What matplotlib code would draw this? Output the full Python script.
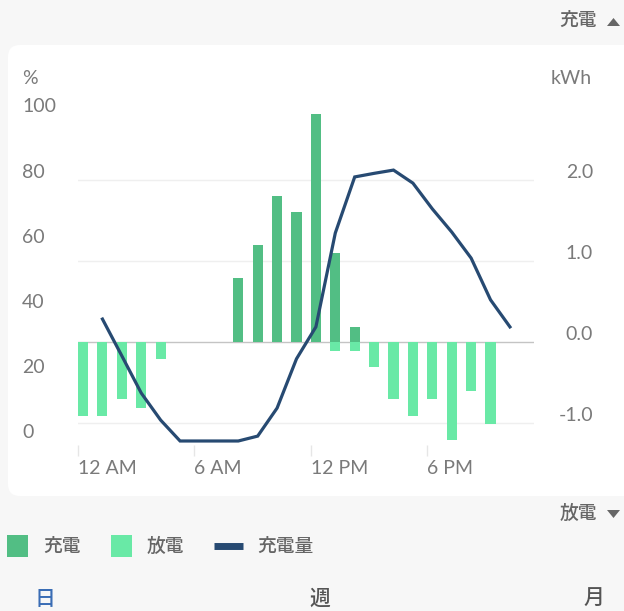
import matplotlib.pyplot as plt
import matplotlib.transforms as mtransforms
from matplotlib.patches import FancyBboxPatch, Rectangle, Polygon
from matplotlib.lines import Line2D

plt.rcParams['font.family'] = ['Lato', 'Noto Sans CJK JP', 'DejaVu Sans']

# hourly data
hours = list(range(24))
charge = [0, 0, 0, 0, 0, 0, 0, 0, 0.79, 1.20, 1.80, 1.60, 2.81, 1.10, 0.19,
          0, 0, 0, 0, 0, 0, 0, 0, 0]
discharge = [-0.91, -0.91, -0.70, -0.81, -0.21, 0, 0, 0, 0, 0, 0, 0, 0, -0.11, -0.11,
             -0.31, -0.70, -0.91, -0.70, -1.21, -0.61, -1.01, 0, 0]
soc_hours = list(range(1, 23))
soc = [37.4, 26.1, 14.7, 6.4, 0, 0, 0, 0, 1.5, 10.1, 25.2, 35.0, 63.8, 81.0,
       82.1, 83.1, 79.1, 71.2, 64.1, 56.1, 43.3, 35.0]

x_ticks = [0, 6, 12, 18]
x_labels = ['12 AM', '6 AM', '12 PM', '6 PM']
kwh_ticks = [2.0, 1.0, 0.0, -1.0]
kwh_labels = ['2.0', '1.0', '0.0', '-1.0']
pct_ticks = [0, 20, 40, 60, 80, 100]

c_charge = '#52be84'
c_dis = '#69e9a6'
c_line = '#274a72'
c_text = '#7a7a7a'

W, H = 624, 611
fig = plt.figure(figsize=(W / 100, H / 100), dpi=100)
fig.patch.set_facecolor('#f7f7f7')

# white card behind the chart
card = FancyBboxPatch((0.08, 1.15), 6.4, 4.51, boxstyle='round,pad=0,rounding_size=0.12',
                      transform=fig.dpi_scale_trans, facecolor='white', edgecolor='none', zorder=-5)
fig.patches.append(card)

ax = fig.add_axes([78 / W, 1 - 445 / H, 456 / W, 345 / H])
ax.set_facecolor('none')
ax2 = ax.twinx()
ax2.set_facecolor('none')

off = 0.26
bw = 0.52
ax.bar([h + off for h in hours], charge, width=bw, color=c_charge, zorder=3)
ax.bar([h + off for h in hours], discharge, width=bw, color=c_dis, zorder=3)
ax.set_xlim(0, 23.5)
ax.set_ylim(-1.2716, 2.988)

for v in kwh_ticks:
    if v == 0:
        ax.axhline(v, color='#c4c4c4', lw=1.0, zorder=2)
    else:
        ax.axhline(v, color='#efefef', lw=1.0, zorder=1)

ax2.plot([h + off for h in soc_hours], soc, color=c_line, lw=2.3, solid_joinstyle='miter', zorder=5)
ax2.set_ylim(-1.23, 104.6)

for a in (ax, ax2):
    for s in a.spines.values():
        s.set_visible(False)
    a.set_yticks([])

ax.set_xticks(x_ticks)
ax.set_xticklabels(x_labels, ha='left', fontsize=14, color=c_text)
ax.tick_params(axis='x', length=8, width=1, color='#e6e6e6', pad=3)

shift = mtransforms.ScaledTranslation(0, 0.08, fig.dpi_scale_trans)
tr_r = mtransforms.blended_transform_factory(fig.transFigure, ax.transData) + shift
for v, lab in zip(kwh_ticks, kwh_labels):
    ax.text(593 / W, v, lab, transform=tr_r, ha='right', va='center', fontsize=14, color=c_text)
tr_l = mtransforms.blended_transform_factory(fig.transFigure, ax2.transData) + shift
for v in pct_ticks:
    ax2.text(22 / W, v, str(v), transform=tr_l, ha='left', va='center', fontsize=14, color=c_text)

fig.text(22 / W, 1 - 79 / H, '%', ha='left', va='center', fontsize=14, color=c_text)
fig.text(592 / W, 1 - 79 / H, 'kWh', ha='right', va='center', fontsize=14, color=c_text)

cjk = ['Noto Sans CJK JP', 'DejaVu Sans']
c_cjk = '#666666'
fig.text(597 / W, 1 - 20 / H, '充電', ha='right', va='center', fontsize=13.5, color=c_cjk,
         family=cjk, weight='medium')
fig.patches.append(Polygon([(607 / W, 1 - 26 / H), (620 / W, 1 - 26 / H), (613.5 / W, 1 - 18 / H)],
                           closed=True, transform=fig.transFigure, facecolor=c_cjk, edgecolor='none'))
fig.text(597 / W, 1 - 513 / H, '放電', ha='right', va='center', fontsize=13.5, color=c_cjk,
         family=cjk, weight='medium')
fig.patches.append(Polygon([(607 / W, 1 - 510 / H), (620 / W, 1 - 510 / H), (613.5 / W, 1 - 518 / H)],
                           closed=True, transform=fig.transFigure, facecolor=c_cjk, edgecolor='none'))

# legend row
ly = 1 - 546 / H
fig.patches.append(Rectangle((7 / W, ly - 11 / H), 21 / W, 22 / H, transform=fig.transFigure,
                             facecolor=c_charge, edgecolor='none'))
fig.text(43 / W, ly, '充電', ha='left', va='center', fontsize=13.5, color=c_cjk, family=cjk,
         weight='medium')
fig.patches.append(Rectangle((111 / W, ly - 11 / H), 21 / W, 22 / H, transform=fig.transFigure,
                             facecolor=c_dis, edgecolor='none'))
fig.text(147 / W, ly, '放電', ha='left', va='center', fontsize=13.5, color=c_cjk, family=cjk,
         weight='medium')
fig.lines.append(Line2D([214 / W, 243 / W], [ly, ly], transform=fig.transFigure, color=c_line,
                        lw=5, solid_capstyle='butt'))
fig.text(257 / W, ly, '充電量', ha='left', va='center', fontsize=13.5, color=c_cjk, family=cjk,
         weight='medium')

# period tabs
ty = 1 - 599 / H
fig.text(45 / W, ty, '日', ha='center', va='center', fontsize=15, color='#3a6db5', family=cjk,
         weight='medium')
fig.text(320 / W, ty, '週', ha='center', va='center', fontsize=15, color='#555555', family=cjk,
         weight='medium')
fig.text(594 / W, ty, '月', ha='center', va='center', fontsize=15, color='#555555', family=cjk,
         weight='medium')

fig.savefig('out.png', dpi=100, facecolor=fig.get_facecolor())
